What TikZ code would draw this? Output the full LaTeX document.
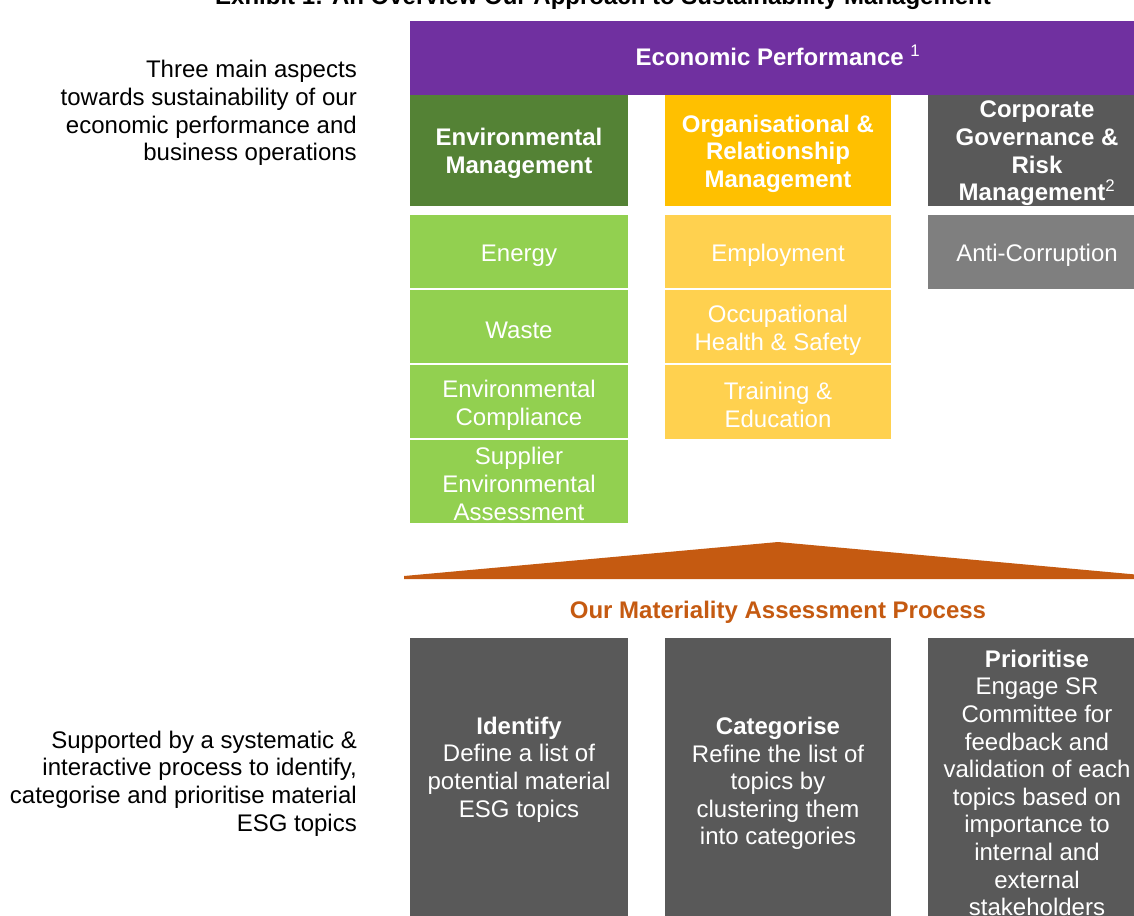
\documentclass[tikz,border=0pt]{standalone}
\usepackage{fontspec}
\setmainfont{Liberation Sans}
\definecolor{econpurple}{HTML}{7030A0}
\definecolor{envdark}{HTML}{548235}
\definecolor{envlight}{HTML}{92D050}
\definecolor{orggold}{HTML}{FFC000}
\definecolor{orglight}{HTML}{FFD14F}
\definecolor{govdark}{HTML}{595959}
\definecolor{govlight}{HTML}{7F7F7F}
\definecolor{procorange}{HTML}{C55A11}
\definecolor{bodytext}{HTML}{000000}
\begin{document}
\begin{tikzpicture}[x=1pt,y=-1pt,
  cell/.style={draw=none, inner sep=0pt, outer sep=0pt, anchor=north west},
  lbl/.style={text=white, align=center, inner sep=0pt, font=\fontsize{24}{27.6}\selectfont},
  hdr/.style={lbl, font=\bfseries\fontsize{24}{27.6}\selectfont},
  side/.style={text=bodytext, align=right, anchor=east, inner sep=0pt, font=\fontsize{24}{27.6}\selectfont},
  sep/.style={white, line width=1.2pt}
]
\useasboundingbox (0,0) rectangle (1134,915);

% title line
\node[anchor=base, inner sep=0pt, text=bodytext, font=\bfseries\fontsize{24}{28}\selectfont] (title) at (603,5)
  {Exhibit 1: An Overview Our Approach to Sustainability Management};

% economic performance band
\node[cell, fill=econpurple, minimum width=736pt, minimum height=74pt] (econ) at (410,21) {};

% column headers
\node[cell, fill=envdark, minimum width=218pt, minimum height=110.5pt] (envh) at (410,95) {};
\node[cell, fill=orggold, minimum width=226pt, minimum height=110.5pt] (orgh) at (665,95) {};
\node[cell, fill=govdark, minimum width=218pt, minimum height=110.5pt] (govh) at (928,95) {};

% environmental topics
\node[cell, fill=envlight, minimum width=218pt, minimum height=74pt] (energy) at (410,215) {};
\node[cell, fill=envlight, minimum width=218pt, minimum height=75pt] (waste) at (410,289) {};
\node[cell, fill=envlight, minimum width=218pt, minimum height=75pt] (envcomp) at (410,364) {};
\node[cell, fill=envlight, minimum width=218pt, minimum height=83.5pt] (supplier) at (410,439) {};

% organisational topics
\node[cell, fill=orglight, minimum width=226pt, minimum height=74pt] (employ) at (665,215) {};
\node[cell, fill=orglight, minimum width=226pt, minimum height=75pt] (ohs) at (665,289) {};
\node[cell, fill=orglight, minimum width=226pt, minimum height=75pt] (train) at (665,364) {};

% governance topic
\node[cell, fill=govlight, minimum width=218pt, minimum height=73.5pt] (anti) at (928,215) {};

% thin white rules between stacked topics
\draw[sep] (energy.south west) -- (energy.south east);
\draw[sep] (waste.south west) -- (waste.south east);
\draw[sep] (envcomp.south west) -- (envcomp.south east);
\draw[sep] (employ.south west) -- (employ.south east);
\draw[sep] (ohs.south west) -- (ohs.south east);

% roof shape over the process
\fill[procorange] (404,579) -- (404,576) -- (778,542) -- (1152,576) -- (1152,579) -- cycle;

% process steps
\node[cell, fill=govdark, minimum width=218pt, minimum height=290pt] (identify) at (410,638) {};
\node[cell, fill=govdark, minimum width=226pt, minimum height=290pt] (categ) at (665,638) {};
\node[cell, fill=govdark, minimum width=218pt, minimum height=290pt] (prior) at (928,638) {};

% labels
\node[hdr] (econt) at (778,55) {Economic Performance \textsuperscript{\mdseries 1}};
\node[hdr] (envht) at (519,153.5) {Environmental\\Management};
\node[hdr] (orght) at (778,153.5) {Organisational \&\\Relationship\\Management};
\node[hdr] (govht) at (1037,153.5) {Corporate\\Governance \&\\Risk\\Management\textsuperscript{\mdseries 2}};

\node[lbl] (energyt) at (519,255.5) {Energy};
\node[lbl] (wastet) at (519,330) {Waste};
\node[lbl] (envcompt) at (519,405) {Environmental\\Compliance};
\node[lbl] (suppliert) at (519,484) {Supplier\\Environmental\\Assessment};

\node[lbl] (employt) at (778,255.5) {Employment};
\node[lbl] (ohst) at (778,330) {Occupational\\Health \& Safety};
\node[lbl] (traint) at (778,405) {Training \&\\Education};

\node[lbl] (antit) at (1037,255.5) {Anti-Corruption};

\node[hdr, text=procorange] (matt) at (778,612) {Our Materiality Assessment Process};

\node[lbl] (identifyt) at (519,769.5) {\textbf{Identify}\\Define a list of\\potential material\\ESG topics};
\node[lbl] (categt) at (778,783.5) {\textbf{Categorise}\\Refine the list of\\topics by\\clustering them\\into categories};
\node[lbl] (priort) at (1037,783) {\textbf{Prioritise}\\Engage SR\\Committee for\\feedback and\\validation of each\\topics based on\\importance to\\internal and\\external\\stakeholders};

% side notes
\node[side] (aspects) at (357,113) {Three main aspects\\towards sustainability of our\\economic performance and\\business operations};
\node[side] (support) at (357,783.5) {Supported by a systematic \&\\interactive process to identify,\\categorise and prioritise material\\ESG topics};
\end{tikzpicture}
\end{document}
